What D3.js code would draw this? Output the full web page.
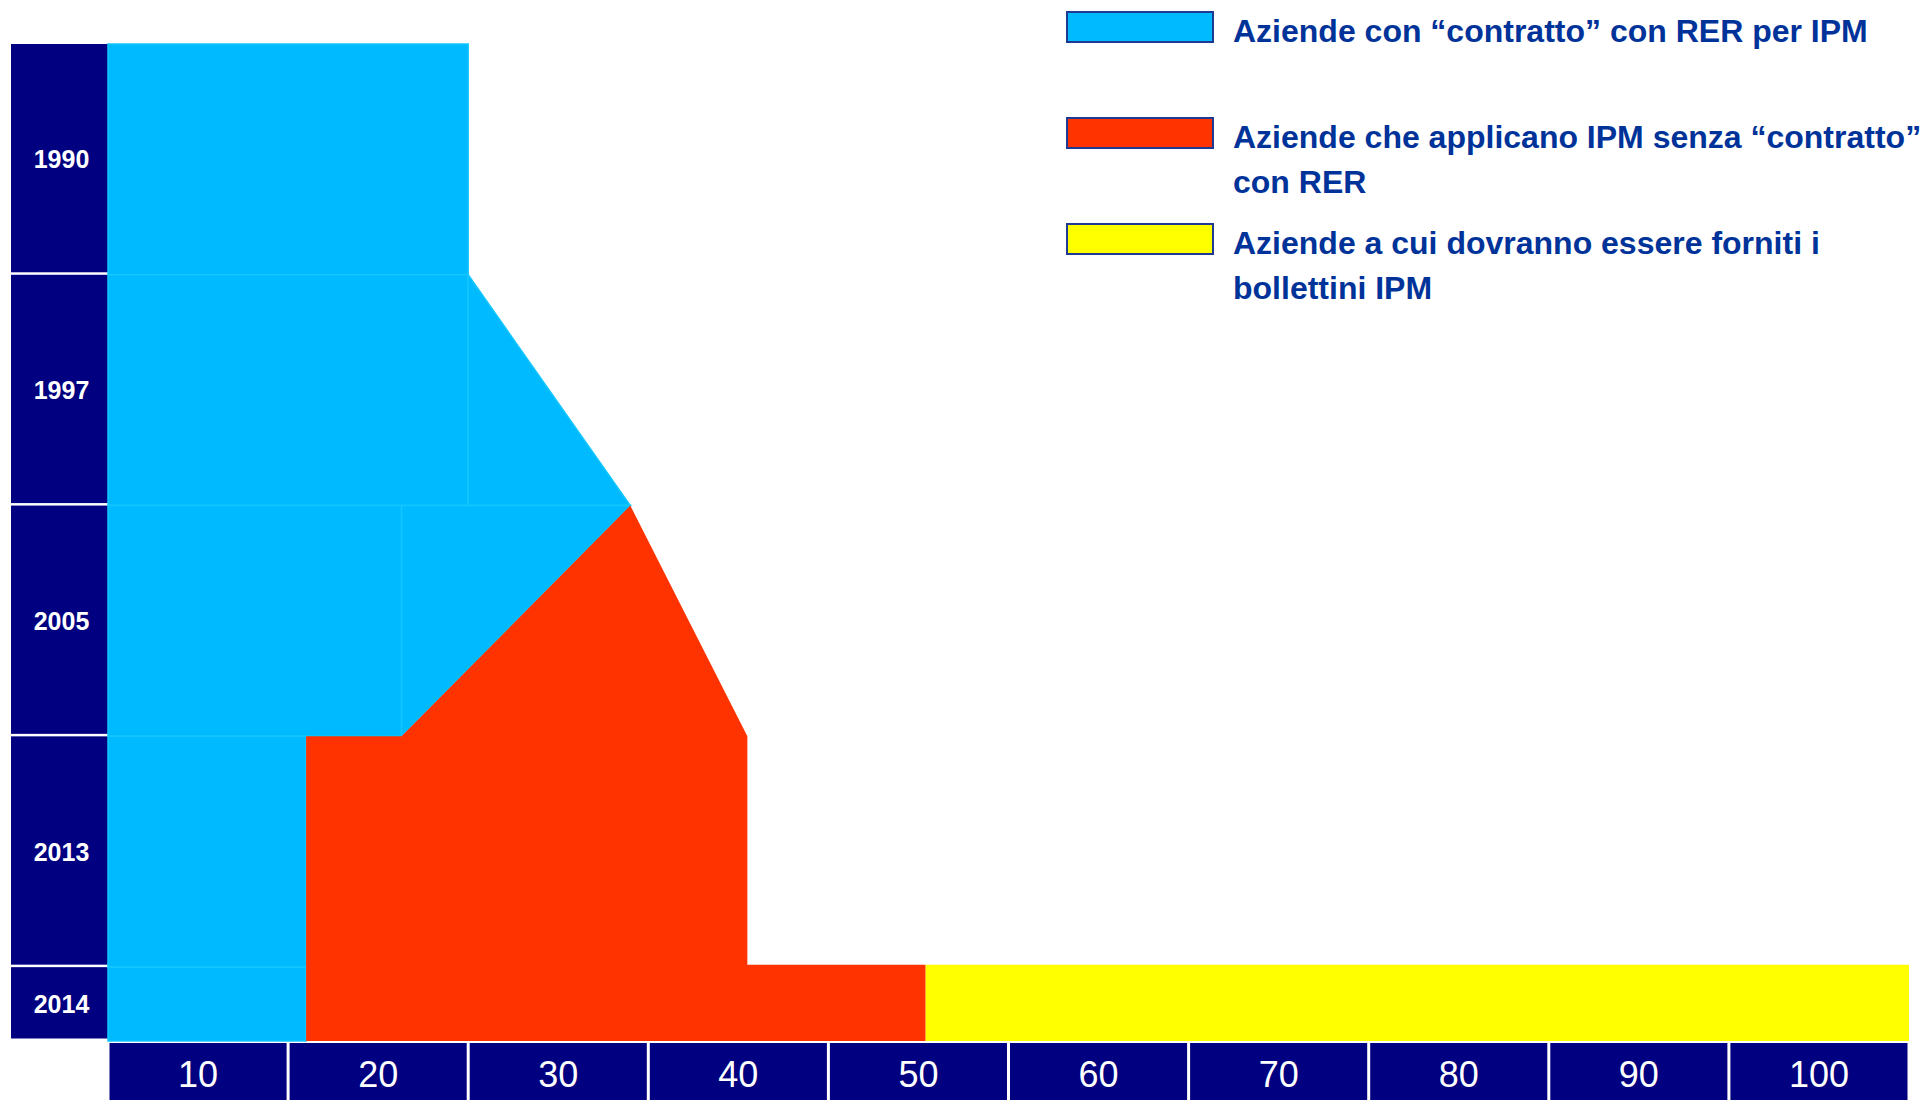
<!DOCTYPE html>
<html>
<head>
<meta charset="utf-8">
<script src="https://cdn.jsdelivr.net/npm/d3@7"></script>
<style>
  body { margin: 0; background: #fff; }
  svg { display: block; }
</style>
</head>
<body>
<div id="chart"></div>
<script>
// rows (years) and the share they take on the vertical axis (2014 is a thin row)
var years = ['1990', '1997', '2005', '2013', '2014'];
var yearSpan = [1, 1, 1, 1, 0.32];

// x axis cells
var xTicks = [10, 20, 30, 40, 50, 60, 70, 80, 90, 100];

// shapes in data units: [percent, row level]
var bluePieces = [
  [[0, 0], [20, 0], [20, 1], [0, 1]],
  [[0, 1], [20, 1], [20, 2], [0, 2]],
  [[20, 1], [29, 2], [20, 2]],
  [[0, 2], [16.3, 2], [16.3, 3], [0, 3]],
  [[16.3, 2], [29, 2], [16.3, 3]],
  [[0, 3], [11, 3], [11, 4], [0, 4]],
  [[0, 4], [11, 4], [11, 4.32], [0, 4.32]]
];
var redShape = [[11, 3], [16.3, 3], [29, 2], [35.5, 3], [35.5, 3.99], [45.4, 3.99], [45.4, 4.32], [11, 4.32]];
var yellowShape = [[45.4, 3.99], [100, 3.99], [100, 4.32], [45.4, 4.32]];

var legendItems = [
  { color: '#00BAFF', lines: ['Aziende con \u201Ccontratto\u201D con RER per IPM'] },
  { color: '#FF3300', lines: ['Aziende che applicano IPM senza \u201Ccontratto\u201D', 'con RER'] },
  { color: '#FFFF00', lines: ['Aziende a cui dovranno essere forniti i', 'bollettini IPM'] }
];

var W = 1931, H = 1100;
var navy = '#000080';

var svg = d3.select('#chart').append('svg')
  .attr('width', W)
  .attr('height', H);

var xScale = d3.scaleLinear().domain([0, 100]).range([108, 1909]);
var yScale = d3.scaleLinear().domain([0, d3.sum(yearSpan)]).range([44, 1041]);

var line = d3.line()
  .x(function (d) { return xScale(d[0]); })
  .y(function (d) { return yScale(d[1]); })
  .curve(d3.curveLinearClosed);

// year boxes on the left
var levels = [];
var acc = 0;
yearSpan.forEach(function (s) { levels.push(acc); acc += s; });

var yearG = svg.append('g');
yearG.selectAll('rect').data(years)
  .enter().append('rect')
  .attr('x', 11)
  .attr('y', function (d, i) { return yScale(levels[i]); })
  .attr('width', xScale(0) - 11)
  .attr('height', function (d, i) { return yScale(levels[i] + yearSpan[i]) - yScale(levels[i]) - 2.5; })
  .attr('fill', navy);

yearG.selectAll('text').data(years)
  .enter().append('text')
  .attr('x', (11 + xScale(0)) / 2 + 2)
  .attr('y', function (d, i) { return (yScale(levels[i]) + yScale(levels[i] + yearSpan[i])) / 2 + 9; })
  .attr('text-anchor', 'middle')
  .attr('font-family', 'Liberation Sans, Arial, sans-serif')
  .attr('font-weight', 'bold')
  .attr('font-size', '25px')
  .attr('fill', '#fff')
  .text(function (d) { return d; });

// areas
svg.append('g').selectAll('path').data(bluePieces)
  .enter().append('path')
  .attr('d', line)
  .attr('fill', '#00BAFF')
  .attr('stroke', '#14C6FF')
  .attr('stroke-width', 1.5);

svg.append('path')
  .attr('d', line(redShape))
  .attr('fill', '#FF3300');

svg.append('path')
  .attr('d', line(yellowShape))
  .attr('fill', '#FFFF00');

// x axis cells
var axisG = svg.append('g');
axisG.selectAll('rect').data(xTicks)
  .enter().append('rect')
  .attr('x', function (d) { return xScale(d - 10) + 1.5; })
  .attr('y', yScale(d3.sum(yearSpan)) + 2)
  .attr('width', function (d) { return xScale(d) - xScale(d - 10) - 3; })
  .attr('height', H - yScale(d3.sum(yearSpan)))
  .attr('fill', navy);

axisG.selectAll('text').data(xTicks)
  .enter().append('text')
  .attr('x', function (d) { return xScale(d - 5); })
  .attr('y', 1087)
  .attr('text-anchor', 'middle')
  .attr('font-family', 'Liberation Sans, Arial, sans-serif')
  .attr('font-size', '36px')
  .attr('fill', '#fff')
  .text(function (d) { return d; });

// legend
var legendY = [12, 118, 224];
var legend = svg.append('g');
legendItems.forEach(function (item, i) {
  legend.append('rect')
    .attr('x', 1067)
    .attr('y', legendY[i])
    .attr('width', 146)
    .attr('height', 30)
    .attr('fill', item.color)
    .attr('stroke', '#1F3A93')
    .attr('stroke-width', 2);
  item.lines.forEach(function (t, j) {
    legend.append('text')
      .attr('x', 1233)
      .attr('y', legendY[i] + 30 + j * 45)
      .attr('font-family', 'Liberation Sans, Arial, sans-serif')
      .attr('font-weight', 'bold')
      .attr('font-size', '32px')
      .attr('fill', '#003399')
      .text(t);
  });
});
</script>
</body>
</html>
